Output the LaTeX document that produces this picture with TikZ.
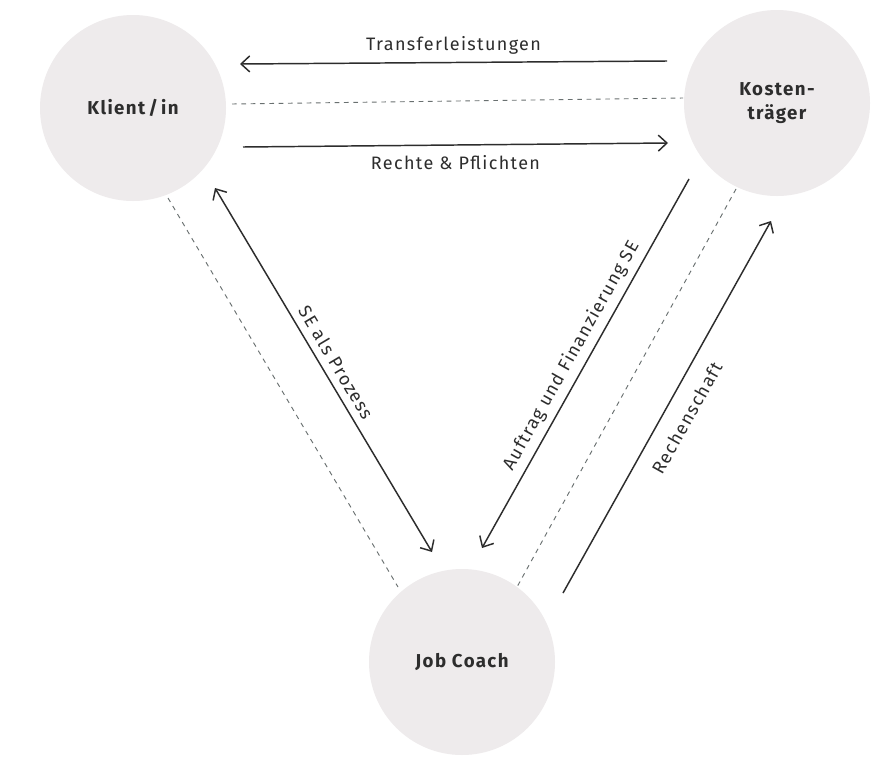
\documentclass[tikz,border=0pt]{standalone}
\usepackage{fontspec}
\setmainfont{Fira Sans}[LetterSpace=7.5]
\usetikzlibrary{arrows.meta}
\definecolor{circ}{RGB}{238,235,236}
\definecolor{ink}{RGB}{45,45,45}
\definecolor{dashc}{RGB}{105,112,112}
\begin{document}
\begin{tikzpicture}[x=0.75pt,y=-0.75pt,
  >={Straight Barb[length=6.5pt,width=12pt]},
  party/.style={circle,fill=circ,minimum size=139.5pt,inner sep=0pt,
    font=\fontsize{14}{18}\selectfont\bfseries,text=ink,align=center},
  flow/.style={draw=ink,line width=1.1pt},
  rel/.style={draw=dashc,line width=0.7pt,dash pattern=on 3.5pt off 3.5pt},
  lbl/.style={font=\fontsize{13.5}{17}\selectfont,text=ink,inner sep=0.333em}]
\fill[white] (0,0) rectangle (888,760);
\useasboundingbox (0,0) rectangle (888,760);
% parties
\node[party] (kl) at (133,108) {Klient\,/\,in};
\node[party] (ko) at (777,103) {Kosten-\\träger};
\node[party] (jc) at (462,662) {Job Coach};
% connector ends
\coordinate (tA) at (667,61);  \coordinate (tB) at (240,64);
\coordinate (mA) at (232,104); \coordinate (mB) at (683,98);
\coordinate (rA) at (243,147); \coordinate (rB) at (668,143);
\coordinate (sA) at (215,188); \coordinate (sB) at (432,552);
\coordinate (dA) at (168,198); \coordinate (dB) at (398,587);
\coordinate (aA) at (482,548); \coordinate (aB) at (689,179);
\coordinate (eA) at (736,189); \coordinate (eB) at (517,587);
\coordinate (cA) at (563,593); \coordinate (cB) at (771,221);
% Klient <-> Kostentraeger
\draw[flow,->] (tA) -- node[lbl,above=2pt] {Transferleistungen} (tB);
\draw[rel] (mA) -- (mB);
\draw[flow,->] (rA) -- node[lbl,below=4pt] {Rechte \& Pflichten} (rB);
% Klient <-> Job Coach
\draw[flow,<->] (sA) -- node[lbl,sloped,above=2pt] {SE als Prozess} (sB);
\draw[rel] (dA) -- (dB);
% Kostentraeger <-> Job Coach
\draw[flow,<-] (aA) -- node[lbl,sloped,above=1.5pt] {Auftrag und Finanzierung SE} (aB);
\draw[rel] (eA) -- (eB);
\draw[flow,->] (cA) -- node[lbl,sloped,below=8pt] {Rechenschaft} (cB);
\end{tikzpicture}
\end{document}
